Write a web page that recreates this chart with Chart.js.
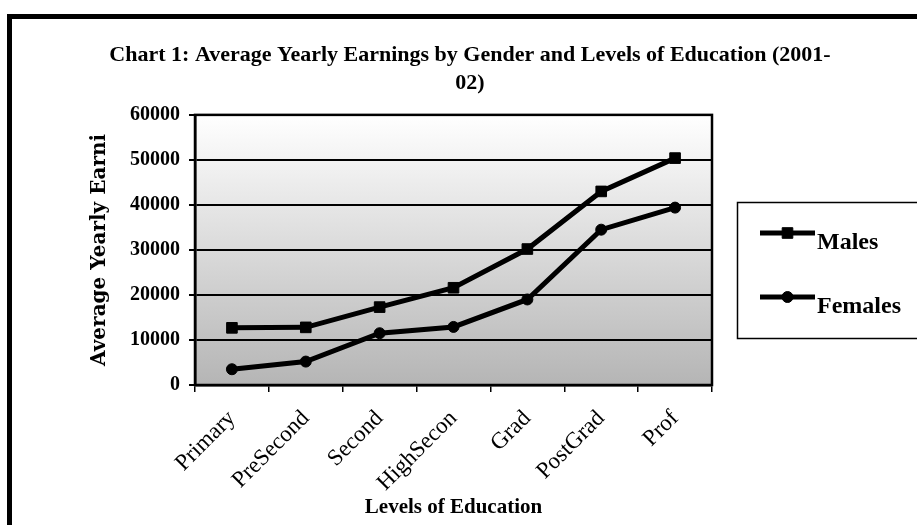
<!DOCTYPE html>
<html>
<head>
  <title>Average Yearly Earnings by Gender and Levels of Education</title>
  <meta charset="UTF-8">
  <script src="https://cdn.jsdelivr.net/npm/chart.js"></script>
  <style>
    body {
      margin: 0;
      background: #fff;
      overflow: hidden;
    }
    .frame {
      position: absolute;
      left: 7px;
      top: 14px;
      width: 1000px;
      height: 1000px;
      border: 5px solid #000;
    }
    #chart {
      position: absolute;
      left: 0;
      top: 0;
    }
  </style>
</head>
<body>
  <div class="frame"></div>
  <canvas id="chart" width="917" height="525"></canvas>

  <script>
    // values
    const categories = ['Primary', 'PreSecond', 'Second', 'HighSecon', 'Grad', 'PostGrad', 'Prof'];
    const males = [12700, 12800, 17300, 21600, 30200, 43000, 50400];
    const females = [3500, 5200, 11500, 12900, 19000, 34500, 39400];
    const yTicks = [0, 10000, 20000, 30000, 40000, 50000, 60000];

    const serif = '"Liberation Serif", "Times New Roman", serif';

    // grey gradient behind the plot and a black frame round it
    const plotBackground = {
      id: 'plotBackground',
      beforeDraw(chart) {
        const { ctx, chartArea: a } = chart;
        const g = ctx.createLinearGradient(0, a.top, 0, a.bottom);
        g.addColorStop(0, '#ffffff');
        g.addColorStop(1, '#b5b5b5');
        ctx.save();
        ctx.fillStyle = g;
        ctx.fillRect(a.left, a.top, a.right - a.left, a.bottom - a.top);
        ctx.restore();
      },
      beforeDatasetsDraw(chart) {
        const { ctx, chartArea: a } = chart;
        ctx.save();
        ctx.strokeStyle = '#000';
        ctx.lineWidth = 2.5;
        ctx.strokeRect(a.left, a.top, a.right - a.left, a.bottom - a.top);
        ctx.restore();
      }
    };

    // Excel style legend: line sample with the marker in its middle
    const sideLegend = {
      id: 'sideLegend',
      afterDraw(chart) {
        const { ctx, chartArea: a } = chart;
        const left = a.right + 25;
        const top = 202;
        ctx.save();
        ctx.strokeStyle = '#000';
        ctx.lineWidth = 1.5;
        ctx.strokeRect(left + 0.5, top + 0.5, 300, 136);
        chart.data.datasets.forEach((ds, i) => {
          const y = top + 31 + i * 64;
          const x0 = left + 23, x1 = left + 78;
          ctx.strokeStyle = ds.borderColor;
          ctx.fillStyle = ds.backgroundColor;
          ctx.lineWidth = ds.borderWidth;
          ctx.beginPath();
          ctx.moveTo(x0, y);
          ctx.lineTo(x1, y);
          ctx.stroke();
          ctx.lineWidth = 1;
          Chart.helpers.drawPoint(ctx, {
            pointStyle: ds.pointStyle,
            radius: ds.pointRadius,
            borderWidth: 1,
            rotation: 0
          }, (x0 + x1) / 2, y);
          ctx.fillStyle = '#000';
          ctx.font = 'bold 24px ' + serif;
          ctx.textBaseline = 'alphabetic';
          ctx.textAlign = 'left';
          ctx.fillText(ds.label, x1 + 2, y + 16);
        });
        ctx.restore();
      }
    };

    new Chart(document.getElementById('chart'), {
      type: 'line',
      data: {
        labels: categories,
        datasets: [
          {
            label: 'Males',
            data: males,
            borderColor: '#000',
            backgroundColor: '#000',
            borderWidth: 5,
            pointStyle: 'rect',
            pointRadius: 7.5,
            pointBorderWidth: 1,
            tension: 0
          },
          {
            label: 'Females',
            data: females,
            borderColor: '#000',
            backgroundColor: '#000',
            borderWidth: 5,
            pointStyle: 'circle',
            pointRadius: 5.5,
            pointBorderWidth: 1,
            tension: 0
          }
        ]
      },
      options: {
        responsive: false,
        animation: false,
        layout: { padding: { left: 23, top: 20, right: 0, bottom: 0 } },
        scales: {
          x: {
            offset: true,
            grid: {
              offset: true,
              drawOnChartArea: false,
              drawTicks: true,
              tickLength: 7,
              color: '#000',
              lineWidth: 1.5
            },
            border: { color: '#000', width: 2.5 },
            ticks: {
              color: '#000',
              font: { family: serif, size: 23 },
              maxRotation: 45,
              minRotation: 45,
              autoSkip: false,
              padding: 13
            },
            title: {
              display: true,
              text: 'Levels of Education',
              color: '#000',
              font: { family: serif, size: 21, weight: 'bold' },
              padding: { top: 0, bottom: 5 }
            },
            afterFit(scale) { scale.height = 140; }
          },
          y: {
            min: 0,
            max: 60000,
            afterBuildTicks(scale) {
              scale.ticks = yTicks.map(v => ({ value: v }));
            },
            grid: {
              color: '#000',
              lineWidth: 2,
              tickLength: 6
            },
            border: { color: '#000', width: 2.5 },
            ticks: {
              color: '#000',
              font: { family: serif, size: 20, weight: 'bold' },
              padding: 9,
              callback: v => String(v)
            },
            title: {
              display: true,
              text: 'Average Yearly Earni',
              color: '#000',
              font: { family: '"DejaVu Serif", serif', size: 20, weight: 'bold' },
              padding: { top: 65, bottom: 0 }
            },
            afterFit(scale) { scale.width = 172; }
          },
          // empty axis that keeps the room for the legend on the right
          side: {
            position: 'right',
            display: true,
            grid: { display: false, drawTicks: false },
            border: { display: false },
            ticks: { display: false },
            afterFit(scale) { scale.width = 205; }
          }
        },
        plugins: {
          legend: { display: false },
          tooltip: { enabled: false },
          title: {
            display: true,
            text: ['Chart 1: Average Yearly Earnings by Gender and Levels of Education (2001-', '02)'],
            color: '#000',
            font: { family: serif, size: 22, weight: 'bold', lineHeight: 1.27 },
            padding: { top: 21, bottom: 18 }
          }
        }
      },
      plugins: [plotBackground, sideLegend]
    });
  </script>
</body>
</html>
